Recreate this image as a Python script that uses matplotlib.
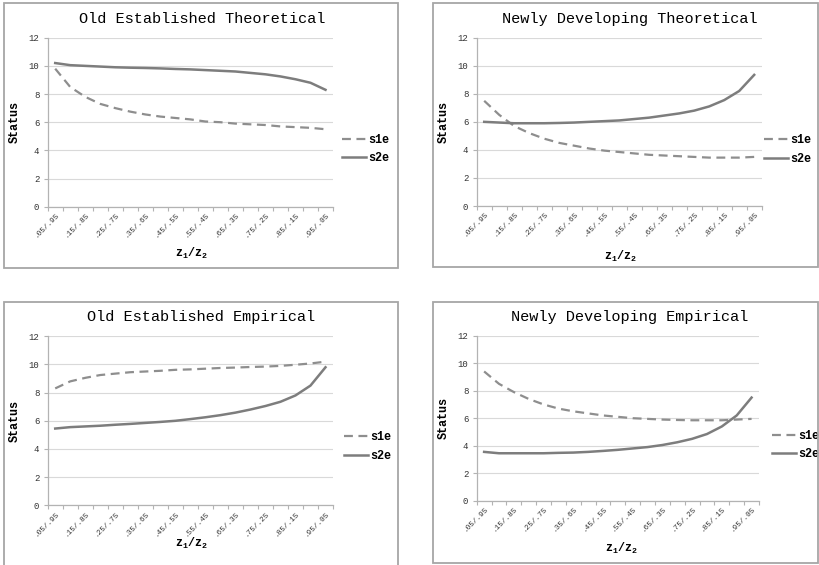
import matplotlib
matplotlib.use("Agg")
import matplotlib.pyplot as plt
from matplotlib.patches import Rectangle
import numpy as np

plt.rcParams['font.family'] = ['Liberation Mono', 'DejaVu Sans Mono']
plt.rcParams['mathtext.fontset'] = 'custom'
plt.rcParams['mathtext.rm'] = 'Liberation Mono'
plt.rcParams['mathtext.bf'] = 'Liberation Mono:bold'

# categories z1/z2
cats = [".05/.95", ".10/.90", ".15/.85", ".20/.80", ".25/.75", ".30/.70", ".35/.65",
        ".40/.60", ".45/.55", ".50/.50", ".55/.45", ".60/.40", ".65/.35", ".70/.30",
        ".75/.25", ".80/.20", ".85/.15", ".90/.10", ".95/.05"]

titles = ["Old Established Theoretical", "Newly Developing Theoretical",
          "Old Established Empirical", "Newly Developing Empirical"]

# values
old_theo_s1e = [9.8, 8.5, 7.8, 7.3, 7.0, 6.75, 6.55, 6.4, 6.3, 6.2, 6.05, 6.0, 5.9, 5.85, 5.8, 5.7, 5.65, 5.6, 5.5]
old_theo_s2e = [10.2, 10.05, 10.0, 9.95, 9.9, 9.87, 9.85, 9.82, 9.78, 9.75, 9.7, 9.65, 9.6, 9.5, 9.4, 9.25, 9.05, 8.8, 8.3]
new_theo_s1e = [7.5, 6.5, 5.7, 5.2, 4.8, 4.5, 4.3, 4.1, 3.95, 3.85, 3.75, 3.65, 3.6, 3.55, 3.5, 3.45, 3.45, 3.45, 3.5]
new_theo_s2e = [6.0, 5.95, 5.9, 5.9, 5.9, 5.92, 5.95, 6.0, 6.05, 6.1, 6.2, 6.3, 6.45, 6.6, 6.8, 7.1, 7.55, 8.2, 9.35]
old_emp_s1e = [8.3, 8.8, 9.05, 9.25, 9.35, 9.45, 9.5, 9.55, 9.62, 9.65, 9.7, 9.75, 9.78, 9.82, 9.85, 9.9, 9.98, 10.07, 10.2]
old_emp_s2e = [5.45, 5.55, 5.6, 5.65, 5.72, 5.78, 5.85, 5.92, 6.0, 6.12, 6.25, 6.4, 6.58, 6.8, 7.05, 7.35, 7.8, 8.5, 9.8]
new_emp_s1e = [9.4, 8.5, 7.9, 7.4, 7.0, 6.7, 6.5, 6.35, 6.2, 6.1, 6.0, 5.95, 5.9, 5.87, 5.85, 5.85, 5.85, 5.9, 5.95]
new_emp_s2e = [3.55, 3.45, 3.45, 3.45, 3.45, 3.48, 3.5, 3.55, 3.62, 3.7, 3.8, 3.9, 4.05, 4.25, 4.5, 4.85, 5.4, 6.2, 7.5]

s1e_all = [old_theo_s1e, new_theo_s1e, old_emp_s1e, new_emp_s1e]
s2e_all = [old_theo_s2e, new_theo_s2e, old_emp_s2e, new_emp_s2e]

W, H = 819, 565

def box(x0, y0, x1, y1):
    return [x0 / W, 1 - y1 / H, (x1 - x0) / W, (y1 - y0) / H]

# pixel layout (left, top, right, bottom)
axes_px = [(47.7, 37.7, 333, 206.7), (476.7, 37.7, 761.7, 206),
           (47.7, 336.3, 333, 505.3), (476.7, 335.7, 759, 500.7)]
border_px = [(4, 3, 398, 268), (433, 3, 818, 267),
             (4, 302, 398, 570), (433, 302, 818, 563)]
title_px = [(202, 19), (630, 19), (201, 317), (630, 317)]
xlab_px = [(192, 253), (621, 256), (192, 543), (622, 548)]
leg_px = [(342, 149), (764, 149.5), (344, 446.5), (772, 445)]

fig = plt.figure(figsize=(W / 100, H / 100), dpi=100)

for i in range(4):
    bx = border_px[i]
    fig.patches.append(Rectangle((bx[0] / W, 1 - bx[3] / H), (bx[2] - bx[0]) / W, (bx[3] - bx[1]) / H,
                                 transform=fig.transFigure, fill=False, edgecolor='#a6a6a6', lw=1.3))

    ax = fig.add_axes(box(*axes_px[i]))
    x = np.arange(len(cats))
    l1, = ax.plot(x, s1e_all[i], color='#8e8e8e', lw=1.6, linestyle=(0, (4, 2.5)), label='s1e')
    l2, = ax.plot(x, s2e_all[i], color='#7d7d7d', lw=1.8, label='s2e')

    ax.set_xlim(-0.5, len(cats) - 0.5)
    ax.set_ylim(0, 12)
    ax.set_yticks(range(0, 13, 2))
    ax.yaxis.grid(True, color='#d9d9d9', lw=0.8)
    ax.set_axisbelow(True)
    for s in ['top', 'right']:
        ax.spines[s].set_visible(False)
    for s in ['left', 'bottom']:
        ax.spines[s].set_color('#b3b3b3')
        ax.spines[s].set_linewidth(0.9)

    # tick marks between categories, labels on every second category
    ax.set_xticks(np.arange(-0.5, len(cats), 1))
    ax.set_xticklabels([])
    ax.set_xticks(x[::2], minor=True)
    ax.set_xticklabels(cats[::2], minor=True, rotation=45, ha='right', va='top',
                       rotation_mode='anchor', fontsize=5.5, color='#333333')
    ax.tick_params(axis='x', which='major', length=3, color='#b3b3b3', width=0.8)
    ax.tick_params(axis='x', which='minor', length=0, pad=3.5)
    ax.tick_params(axis='y', length=3, color='#b3b3b3', width=0.8, labelsize=6.5, pad=3,
                   labelcolor='#333333')

    ax.set_ylabel('Status', fontsize=8.5, fontweight='bold')
    ax.yaxis.set_label_coords(-27 / (axes_px[i][2] - axes_px[i][0]), 0.5)

    tx, ty = title_px[i]
    fig.text(tx / W, 1 - ty / H, titles[i], ha='center', va='center', fontsize=11)
    lx, ly = xlab_px[i]
    fig.text(lx / W, 1 - ly / H, r'$\mathbf{z_1/z_2}$', ha='center', va='center', fontsize=8.5)

    gx, gy = leg_px[i]
    ax.legend(handles=[l1, l2], loc='center left', bbox_to_anchor=(gx / W, 1 - gy / H),
              bbox_transform=fig.transFigure, frameon=False, handlelength=2.0,
              handletextpad=0.2, labelspacing=0.55, borderpad=0, borderaxespad=0,
              prop={'size': 8.5, 'weight': 'bold'})

fig.savefig('out.png', dpi=100)
